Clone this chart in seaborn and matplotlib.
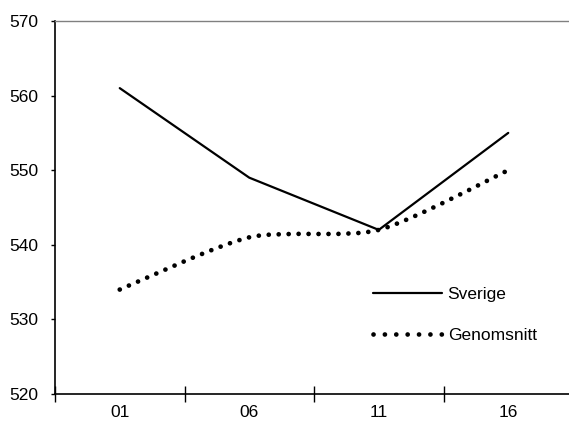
import numpy as np
import pandas as pd
import matplotlib.pyplot as plt
import seaborn as sns
from matplotlib.path import Path
from matplotlib.patches import PathPatch
from matplotlib.lines import Line2D

years = ["01", "06", "11", "16"]
sverige = [561, 549, 542, 555]
genomsnitt = [534, 541, 542, 550]


def smooth_path(xs, ys):
    # Catmull-Rom style bezier through the points (like a smoothed Excel line)
    pts = np.column_stack([xs, ys]).astype(float)
    ext = np.vstack([pts[0], pts, pts[-1]])
    verts = [pts[0]]
    codes = [Path.MOVETO]
    for i in range(len(pts) - 1):
        p0, p1, p2, p3 = ext[i], ext[i + 1], ext[i + 2], ext[i + 3]
        verts += [p1 + (p2 - p0) / 8, p2 - (p3 - p1) / 8, p2]
        codes += [Path.CURVE4] * 3
    return Path(verts, codes)


def main():
    sns.set_style("white")
    plt.rcParams["font.family"] = ["Liberation Sans Narrow", "Liberation Sans", "DejaVu Sans"]

    df = pd.DataFrame({"year": years, "Sverige": sverige})
    x = np.arange(len(years))

    fig = plt.figure(figsize=(5.69, 4.24), dpi=100)
    ax = fig.add_axes([55 / 569, 30 / 424, 518 / 569, 373 / 424])

    sns.lineplot(x=x, y=df["Sverige"], color="black", lw=1.6, ax=ax, legend=False)

    patch = PathPatch(smooth_path(x, genomsnitt), fill=False, edgecolor="black",
                      lw=3.4, linestyle=(0, (0.01, 2.1)), capstyle="round")
    ax.add_patch(patch)

    ax.set_xlim(-0.5, len(years) - 0.5)
    ax.set_ylim(520, 570)
    ax.set_yticks(range(520, 571, 10))
    ax.set_xticks(x)
    ax.set_xticklabels(years)
    ax.set_xticks(np.arange(-0.5, len(years), 1), minor=True)
    ax.set_xlabel("")
    ax.set_ylabel("")

    ax.tick_params(axis="x", which="major", bottom=False, length=0, labelsize=12.5, pad=8,
                   labelcolor="black")
    ax.tick_params(axis="x", which="minor", bottom=True, direction="inout", length=11,
                   width=1, color="black")
    ax.tick_params(axis="y", left=True, direction="out", length=3, width=1, color="black",
                   labelsize=12.5, pad=9, labelcolor="black")

    for s in ["left", "bottom"]:
        ax.spines[s].set_color("black")
        ax.spines[s].set_linewidth(1.2)
    ax.spines["top"].set_color("#808080")
    ax.spines["top"].set_linewidth(1.0)
    ax.spines["right"].set_visible(False)

    handles = [
        Line2D([], [], color="black", lw=1.6),
        Line2D([], [], color="black", lw=3.4, linestyle=(0, (0.01, 2.4)), dash_capstyle="round"),
    ]
    ax.legend(handles, ["Sverige", "Genomsnitt"], frameon=False, fontsize=12.5,
              loc="center left", bbox_to_anchor=(373 / 569, 1 - 315 / 424),
              bbox_transform=fig.transFigure, borderpad=0, borderaxespad=0,
              handlelength=3.95, handletextpad=0.35, labelspacing=1.45,
              labelcolor="black")

    fig.savefig("out.png", dpi=100)


if __name__ == "__main__":
    main()
